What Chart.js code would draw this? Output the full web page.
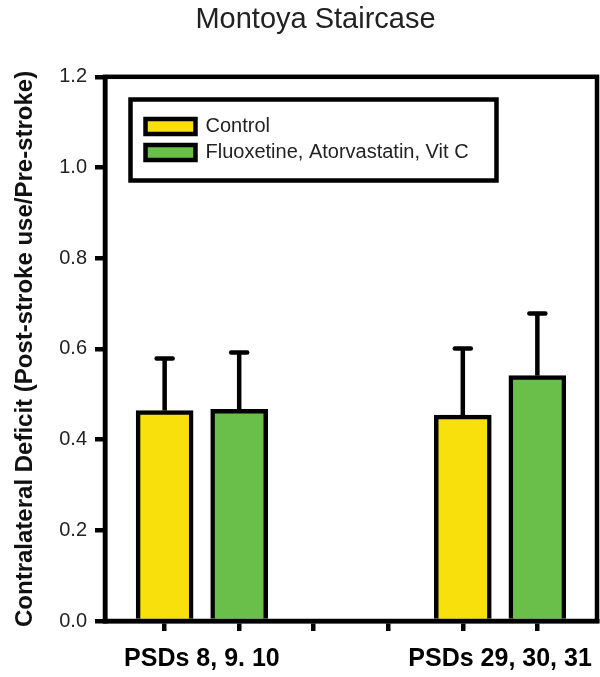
<!DOCTYPE html>
<html>
<head>
<meta charset="utf-8">
<title>Montoya Staircase</title>
<script src="https://cdn.jsdelivr.net/npm/chart.js@4.4.1/dist/chart.umd.min.js"></script>
<style>
    body { margin: 0; background: #fff; }
    #caixa { width: 600px; height: 677px; }
</style>
</head>
<body>
<div id="caixa"><canvas id="grafico"></canvas></div>
<script>
let titulo = "Montoya Staircase";
let tituloEixoY = "Contralateral Deficit (Post-stroke use/Pre-stroke)";
let nomesSeries = ["Control", "Fluoxetine, Atorvastatin, Vit C"];

let grupos = ["PSDs 8, 9. 10", "PSDs 29, 30, 31"];
let posicaoGrupos = [1.5, 5.5];
let marcasX = [1, 2, 3, 4, 5, 6];
let ticksY = [0, 0.2, 0.4, 0.6, 0.8, 1.0, 1.2];

let posicaoControle = [1, 5];
let valoresControle = [0.464, 0.454];
let erroControle = [0.115, 0.147];

let posicaoTratamento = [2, 6];
let valoresTratamento = [0.467, 0.541];
let erroTratamento = [0.125, 0.137];

Chart.defaults.font.family = "'Liberation Sans', Arial, sans-serif";

function montarPontos(posicoes, valores) {
    return posicoes.map((x, i) => ({ x: x, y: valores[i] }));
}

// reposiciona título e legenda como na figura original
let ajusteLayout = {
    id: "ajusteLayout",
    afterLayout(chart) {
        chart.titleBlock.left = 34;
        chart.legend.left = 139.5;
        chart.legend.top = 110.5;
    }
};

let barrasErro = {
    id: "barrasErro",
    afterDatasetsDraw(chart) {
        let ctx = chart.ctx;
        let eixoY = chart.scales.y;
        ctx.save();
        ctx.strokeStyle = "#000";
        ctx.lineWidth = 4.5;
        chart.data.datasets.forEach((ds, i) => {
            chart.getDatasetMeta(i).data.forEach((barra, j) => {
                let topo = eixoY.getPixelForValue(ds.data[j].y);
                let fim = eixoY.getPixelForValue(ds.data[j].y + ds.erros[j]);
                ctx.lineCap = "butt";
                ctx.beginPath();
                ctx.moveTo(barra.x, topo);
                ctx.lineTo(barra.x, fim);
                ctx.stroke();
                ctx.lineCap = "round";
                ctx.beginPath();
                ctx.moveTo(barra.x - 8, fim);
                ctx.lineTo(barra.x + 8, fim);
                ctx.stroke();
            });
        });
        ctx.restore();
    }
};

let molduras = {
    id: "molduras",
    afterDraw(chart) {
        let ctx = chart.ctx;
        let area = chart.chartArea;
        let legenda = chart.legend;
        ctx.save();
        ctx.strokeStyle = "#000";
        ctx.lineWidth = 4.5;
        ctx.strokeRect(area.left, area.top, area.right - area.left, area.bottom - area.top);
        ctx.strokeRect(legenda.left - 9, legenda.top - 11, 366, 81);
        ctx.restore();
    }
};

new Chart(document.getElementById("grafico"), {
    type: "bar",
    data: {
        datasets: [
            {
                label: nomesSeries[0],
                data: montarPontos(posicaoControle, valoresControle),
                erros: erroControle,
                backgroundColor: "#F7E00B"
            },
            {
                label: nomesSeries[1],
                data: montarPontos(posicaoTratamento, valoresTratamento),
                erros: erroTratamento,
                backgroundColor: "#6ABF4B"
            }
        ]
    },
    options: {
        responsive: true,
        maintainAspectRatio: false,
        animation: false,
        layout: { padding: { right: 3 } },
        datasets: {
            bar: { grouped: false, barThickness: 57, borderWidth: 4.5, borderColor: "#000" }
        },
        scales: {
            x: {
                type: "linear",
                min: 0.2,
                max: 6.8,
                offset: false,
                afterBuildTicks: eixo => {
                    eixo.ticks = [...marcasX, ...posicaoGrupos].sort((a, b) => a - b).map(v => ({ value: v }));
                },
                afterFit: eixo => { eixo.height = 56; },
                grid: {
                    offset: false,
                    drawOnChartArea: false,
                    tickLength: 10,
                    lineWidth: 4.5,
                    color: "#000",
                    tickColor: c => (c.tick && posicaoGrupos.includes(c.tick.value)) ? "rgba(0,0,0,0)" : "#000"
                },
                border: { color: "#000", width: 4.5 },
                ticks: {
                    autoSkip: false,
                    maxRotation: 0,
                    minRotation: 0,
                    padding: 13,
                    color: "#000",
                    font: { size: 25, weight: "bold" },
                    callback: v => {
                        let k = posicaoGrupos.indexOf(v);
                        return k >= 0 ? grupos[k] : "";
                    }
                }
            },
            y: {
                min: 0,
                max: 1.2,
                afterBuildTicks: eixo => { eixo.ticks = ticksY.map(v => ({ value: v })); },
                afterFit: eixo => { eixo.width = 105; },
                grid: { drawOnChartArea: false, tickLength: 10, lineWidth: 4.5, color: "#000" },
                border: { color: "#000", width: 4.5 },
                ticks: {
                    padding: 8,
                    color: "#222",
                    font: { size: 20 },
                    callback: v => Number(v).toFixed(1)
                },
                title: {
                    display: true,
                    text: tituloEixoY,
                    color: "#111",
                    font: { size: 24, weight: "bold" },
                    padding: { top: 11, bottom: 0 }
                }
            }
        },
        plugins: {
            legend: {
                position: "chartArea",
                align: "start",
                labels: { boxWidth: 50, boxHeight: 15, padding: 6, color: "#222", font: { size: 20 } }
            },
            title: {
                display: true,
                text: titulo,
                color: "#222",
                font: { size: 29, weight: "normal" },
                padding: { top: 3, bottom: 39 }
            },
            tooltip: { enabled: false }
        }
    },
    plugins: [ajusteLayout, barrasErro, molduras]
});
</script>
</body>
</html>
